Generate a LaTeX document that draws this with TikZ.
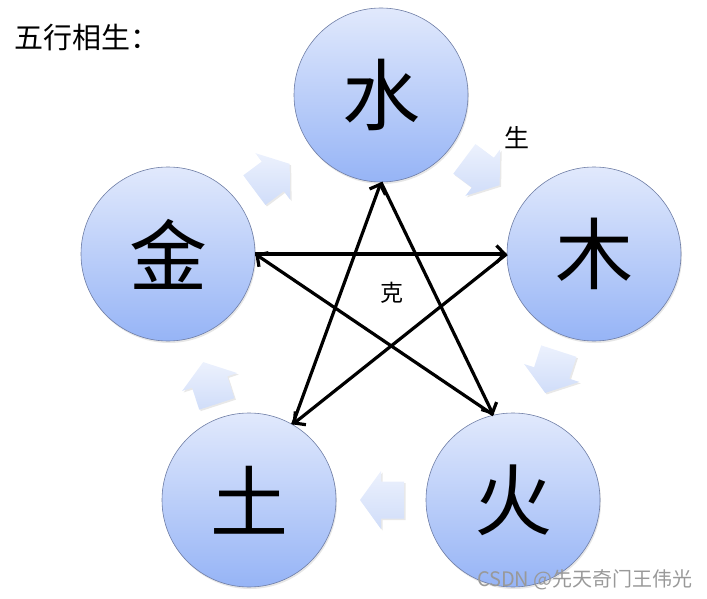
\documentclass[tikz,border=0pt]{standalone}
\usepackage{fontspec}
\newfontfamily\cjk{Noto Sans CJK SC}
\usetikzlibrary{shadows,arrows.meta}
\definecolor{qiutop}{RGB}{225,233,252}
\definecolor{qiubot}{RGB}{150,180,246}
\definecolor{qiuline}{RGB}{110,125,165}
\definecolor{jiantop}{RGB}{236,241,253}
\definecolor{jianbot}{RGB}{208,221,249}
\tikzset{shengjian/.pic={
  \path[top color=jiantop,bottom color=jianbot,
    drop shadow={opacity=0.18,shadow xshift=1.5pt,shadow yshift=-1.5pt}]
    (-22,-18.5) -- (1,-18.5) -- (1,-29) -- (22,0) -- (1,29) -- (1,18.5) -- (-22,18.5) -- cycle;}}
\begin{document}
\begin{tikzpicture}[x=1pt,y=-1pt,line cap=round,line join=round,
  every node/.style={inner sep=1pt},
  xing/.style={circle,minimum size=174pt,inner sep=0pt,draw=qiuline,line width=0.6pt,
    top color=qiutop,bottom color=qiubot,font=\cjk\fontsize{78}{78}\selectfont,
    drop shadow={opacity=0.2,shadow xshift=1pt,shadow yshift=-2pt}},
  ke/.style={line width=3.2pt,line cap=butt,line join=miter,-{Straight Barb[length=8pt,width=17pt]}}]
  \useasboundingbox (0,0) rectangle (707,599);
  \node[anchor=west,font=\cjk\fontsize{29}{29}\selectfont] (title) at (13,38) {五行相生：};
  % the five elements
  \node[xing] (shui) at (381,95) {水};
  \node[xing] (mu) at (594,254) {木};
  \node[xing] (huo) at (513,500) {火};
  \node[xing] (tu) at (249,500) {土};
  \node[xing] (jin) at (168,254) {金};
  % sheng cycle
  \pic[rotate=36.7] (js) at (272,177) {shengjian};
  \pic[rotate=-36.7] (sm) at (482,172) {shengjian};
  \pic[rotate=-108] (mh) at (552,372) {shengjian};
  \pic[rotate=180] (ht) at (382,500) {shengjian};
  \pic[rotate=108] (tj) at (210,383) {shengjian};
  \node[font=\cjk\fontsize{25}{25}\selectfont] (shenglbl) at (517,138) {生};
  % ke cycle
  \draw[ke] (jin.east) -- (mu.west);
  \draw[ke] (mu.west) -- (tu.60);
  \draw[ke] (tu.60) -- (shui.south);
  \draw[ke] (shui.south) -- (huo.103.5);
  \draw[ke] (huo.103.5) -- (jin.east);
  \node[font=\cjk\fontsize{23}{23}\selectfont] (kelbl) at (392,293) {克};
  \node[anchor=east,text=black!40,font=\cjk\fontsize{20}{20}\selectfont] (mark) at (694,580) {CSDN @先天奇门王伟光};
\end{tikzpicture}
\end{document}
